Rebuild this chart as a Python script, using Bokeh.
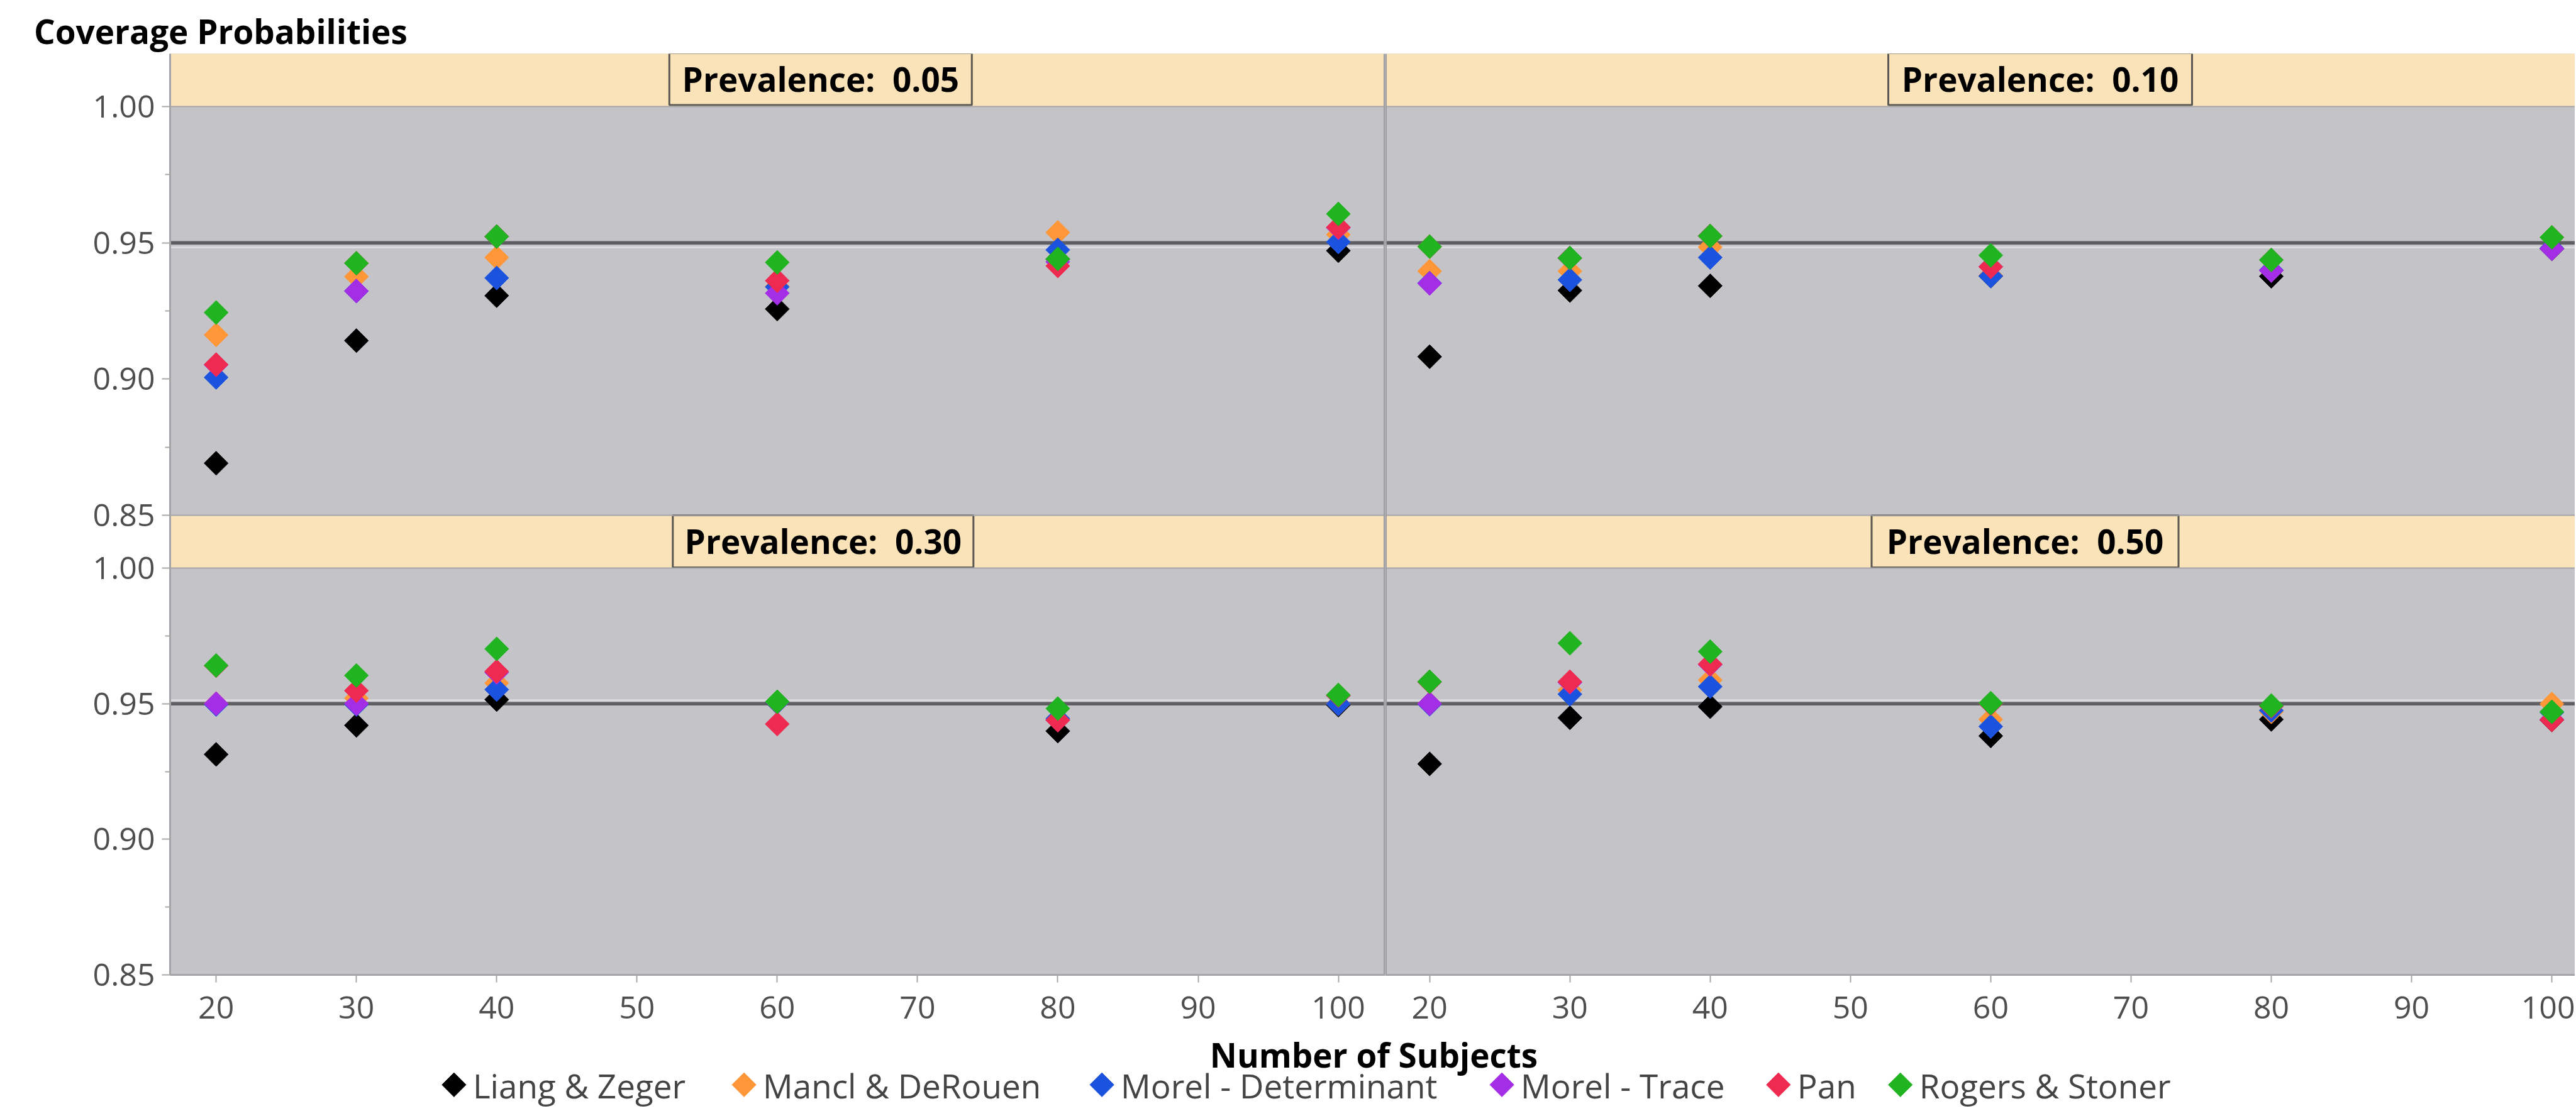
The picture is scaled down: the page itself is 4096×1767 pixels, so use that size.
import math
from bokeh.plotting import figure
from bokeh.layouts import column, row
from bokeh.models import (Range1d, FixedTicker, Span, Label, BoxAnnotation,
                          CustomJSTickFormatter, ColumnDataSource)
from bokeh.embed import file_html
from bokeh.resources import INLINE
from bokeh.core.properties import value

# ---------------------------------------------------------------- data
SUBJECTS = [20, 30, 40, 60, 80, 100]
METHODS = ["Liang & Zeger", "Mancl & DeRouen", "Morel - Determinant",
           "Morel - Trace", "Pan", "Rogers & Stoner"]
PREVALENCES = ["0.05", "0.10", "0.30", "0.50"]
Y_TICKS = [0.85, 0.90, 0.95, 1.00]
Y_MINOR = [0.875, 0.925, 0.975]
X_TICKS = [20, 30, 40, 50, 60, 70, 80, 90, 100]
NOMINAL = 0.95
TITLE = "Coverage Probabilities"
X_TITLE = "Number of Subjects"

# prevalence 0.05
p05_liang_zeger = [0.8691, 0.9141, 0.9306, 0.9257, 0.9440, 0.9471]
p05_mancl_derouen = [0.9162, 0.9376, 0.9446, 0.9340, 0.9538, 0.9530]
p05_morel_det = [0.9006, 0.9323, 0.9371, 0.9338, 0.9474, 0.9503]
p05_morel_trace = [0.9052, 0.9323, 0.9523, 0.9315, 0.9430, 0.9555]
p05_pan = [0.9053, 0.9425, 0.9523, 0.9361, 0.9415, 0.9557]
p05_rogers_stoner = [0.9244, 0.9425, 0.9523, 0.9428, 0.9441, 0.9606]

# prevalence 0.10
p10_liang_zeger = [0.9082, 0.9325, 0.9342, 0.9378, 0.9377, 0.9478]
p10_mancl_derouen = [0.9396, 0.9396, 0.9484, 0.9380, 0.9398, 0.9480]
p10_morel_det = [0.9352, 0.9364, 0.9446, 0.9378, 0.9400, 0.9480]
p10_morel_trace = [0.9351, 0.9444, 0.9525, 0.9412, 0.9398, 0.9478]
p10_pan = [0.9486, 0.9444, 0.9525, 0.9412, 0.9437, 0.9520]
p10_rogers_stoner = [0.9486, 0.9444, 0.9525, 0.9454, 0.9437, 0.9520]

# prevalence 0.30
p30_liang_zeger = [0.9313, 0.9420, 0.9515, 0.9505, 0.9399, 0.9495]
p30_mancl_derouen = [0.9500, 0.9520, 0.9576, 0.9506, 0.9445, 0.9500]
p30_morel_det = [0.9497, 0.9497, 0.9552, 0.9505, 0.9445, 0.9499]
p30_morel_trace = [0.9500, 0.9500, 0.9615, 0.9506, 0.9440, 0.9530]
p30_pan = [0.9640, 0.9548, 0.9619, 0.9425, 0.9439, 0.9530]
p30_rogers_stoner = [0.9641, 0.9604, 0.9702, 0.9507, 0.9482, 0.9532]

# prevalence 0.50
p50_liang_zeger = [0.9278, 0.9448, 0.9489, 0.9381, 0.9442, 0.9440]
p50_mancl_derouen = [0.9500, 0.9550, 0.9587, 0.9442, 0.9470, 0.9499]
p50_morel_det = [0.9498, 0.9535, 0.9563, 0.9416, 0.9475, 0.9468]
p50_morel_trace = [0.9500, 0.9578, 0.9644, 0.9500, 0.9490, 0.9442]
p50_pan = [0.9580, 0.9581, 0.9646, 0.9500, 0.9490, 0.9440]
p50_rogers_stoner = [0.9581, 0.9723, 0.9692, 0.9502, 0.9493, 0.9470]

PANEL_SERIES = [
    [p05_liang_zeger, p05_mancl_derouen, p05_morel_det, p05_morel_trace, p05_pan, p05_rogers_stoner],
    [p10_liang_zeger, p10_mancl_derouen, p10_morel_det, p10_morel_trace, p10_pan, p10_rogers_stoner],
    [p30_liang_zeger, p30_mancl_derouen, p30_morel_det, p30_morel_trace, p30_pan, p30_rogers_stoner],
    [p50_liang_zeger, p50_mancl_derouen, p50_morel_det, p50_morel_trace, p50_pan, p50_rogers_stoner],
]

# ---------------------------------------------------------------- style
COLORS = ["#000000", "#FF9638", "#1C53DE", "#A42DE6", "#EF2A50", "#21B421"]
FONT = "Open Sans"
PLOT_BG = "#C3C3C8"
STRIP_BG = "#FAE3B8"
BOX_LINE = "#5C5852"
AXIS_GRAY = "#A4A4A9"
TICK_GRAY = "#A8A8A8"
LABEL_GRAY = "#4E4E4E"
REF_DARK = "#5E5E63"
REF_LIGHT = "#DADADF"
MARKER_SIZE = 27

# ---------------------------------------------------------------- layout (px)
TOTAL_W = 4094
HEADER_H = 85
STRIP_H = 84
PLOT_H_TOP = 650
PLOT_H_BOT = 647
AXIS_H = 87
FRAME_H = STRIP_H + PLOT_H_TOP + STRIP_H + PLOT_H_BOT
FOOTER_H = 129

LEFT_BORDER = 270
LEFT_FRAME_W = 1932
RIGHT_FRAME_W = TOTAL_W - LEFT_BORDER - LEFT_FRAME_W
X_PPU = 22.305
LEFT_X0 = 16.72
RIGHT_X0 = 16.83
LEFT_X1 = LEFT_X0 + LEFT_FRAME_W / X_PPU
RIGHT_X1 = RIGHT_X0 + RIGHT_FRAME_W / X_PPU

Y0 = 0.85
BOT_PPU = PLOT_H_BOT / 0.15
TOP_PPU = PLOT_H_TOP / 0.15
OFF_PX = PLOT_H_BOT + STRIP_H          # frame px from bottom to the top panel's 0.85
DEFAULT_RANGE = (Y0, Y0 + FRAME_H / BOT_PPU)
TOP_START = Y0 - OFF_PX / TOP_PPU
TOP_RANGE = (TOP_START, TOP_START + FRAME_H / TOP_PPU)


def top_to_default(v):
    return Y0 + (OFF_PX + (v - Y0) * TOP_PPU) / BOT_PPU


# strip boxes: page-x centre and width, in px
STRIP_BOX_CX = [1304.3, 3243.5, 1308.3, 3219.5]
STRIP_BOX_W = [481, 483, 478, 488]

LEGEND_MARKER_X = [721.4, 1182.6, 1751.6, 2387.6, 2827.3, 3021.2]
LEGEND_TEXT_DX = 30
LEGEND_MARKER_Y = 41.2
LEGEND_TEXT_Y = 40.0


def px_to_x(px, is_left):
    if is_left:
        return LEFT_X0 + (px - LEFT_BORDER) / X_PPU
    return RIGHT_X0 + (px - LEFT_BORDER - LEFT_FRAME_W) / X_PPU


def style_grids(fig):
    for g in fig.grid:
        g.visible = False


def make_column(is_left, top_idx, bot_idx):
    x0, x1 = (LEFT_X0, LEFT_X1) if is_left else (RIGHT_X0, RIGHT_X1)
    width = LEFT_BORDER + LEFT_FRAME_W if is_left else RIGHT_FRAME_W
    fig = figure(width=width, height=FRAME_H + AXIS_H,
                 x_range=Range1d(x0, x1), y_range=Range1d(*DEFAULT_RANGE),
                 output_backend="svg", toolbar_location=None,
                 x_axis_location="below",
                 y_axis_location="left" if is_left else None,
                 min_border_left=LEFT_BORDER if is_left else 0,
                 min_border_right=0, min_border_top=0, min_border_bottom=AXIS_H,
                 background_fill_color=PLOT_BG, border_fill_color="white",
                 outline_line_color=None)
    fig.extra_y_ranges = {"top": Range1d(*TOP_RANGE)}
    style_grids(fig)

    # x axis
    ax = fig.xaxis[0]
    ax.ticker = FixedTicker(ticks=X_TICKS)
    ax.axis_line_color = AXIS_GRAY
    ax.axis_line_width = 3
    ax.major_tick_line_color = TICK_GRAY
    ax.major_tick_line_width = 2
    ax.major_tick_out = 12
    ax.major_tick_in = 0
    ax.minor_tick_line_color = None
    ax.major_label_text_font = FONT
    ax.major_label_text_font_size = "50px"
    ax.major_label_text_color = LABEL_GRAY
    ax.major_label_standoff = 22

    if is_left:
        ay = fig.yaxis[0]
        major = Y_TICKS + [top_to_default(v) for v in Y_TICKS]
        minor = Y_MINOR + [top_to_default(v) for v in Y_MINOR]
        ay.ticker = FixedTicker(ticks=major, minor_ticks=minor)
        split = (1.0 + top_to_default(Y0)) / 2.0
        ay.formatter = CustomJSTickFormatter(
            args=dict(y0=Y0, bppu=BOT_PPU, tppu=TOP_PPU, off=OFF_PX, split=split),
            code="""
            let v = tick;
            if (tick > split) { v = y0 + ((tick - y0) * bppu - off) / tppu; }
            return v.toFixed(2);
            """)
        ay.axis_line_color = AXIS_GRAY
        ay.axis_line_width = 3
        ay.major_tick_line_color = TICK_GRAY
        ay.major_tick_line_width = 2
        ay.major_tick_out = 13
        ay.major_tick_in = 0
        ay.minor_tick_line_color = TICK_GRAY
        ay.minor_tick_line_width = 2
        ay.minor_tick_out = 8
        ay.minor_tick_in = 0
        ay.major_label_text_font = FONT
        ay.major_label_text_font_size = "50px"
        ay.major_label_text_color = LABEL_GRAY
        ay.major_label_standoff = 11

    # strips (decoration)
    fig.add_layout(BoxAnnotation(bottom=1.0, top=TOP_RANGE[1] + 0.01, y_range_name="top",
                                 fill_color=STRIP_BG, fill_alpha=1.0, line_color=None,
                                 level="underlay"))
    fig.add_layout(BoxAnnotation(bottom=1.0, top=top_to_default(Y0),
                                 fill_color=STRIP_BG, fill_alpha=1.0, line_color=None,
                                 level="underlay"))

    # prevalence boxes + labels
    for idx, rng, box_bottom, box_top, text_y in [
        (top_idx, "top", 1.0 + 2.4 / TOP_PPU, TOP_RANGE[1] + 1.0 / TOP_PPU, 1.0 + 44.5 / TOP_PPU),
        (bot_idx, "default", 1.0 + 1.0 / BOT_PPU, top_to_default(Y0), 1.0 + 43.4 / BOT_PPU),
    ]:
        cx = STRIP_BOX_CX[idx]
        hw = STRIP_BOX_W[idx] / 2.0
        fig.add_layout(BoxAnnotation(left=px_to_x(cx - hw, is_left), right=px_to_x(cx + hw, is_left),
                                     bottom=box_bottom, top=box_top, y_range_name=rng,
                                     fill_color=STRIP_BG, fill_alpha=1.0,
                                     line_color=BOX_LINE, line_width=3, line_alpha=1.0,
                                     level="underlay"))
        fig.add_layout(Label(x=px_to_x(cx, is_left), y=text_y, y_range_name=rng,
                             text="Prevalence:\u00a0 " + PREVALENCES[idx],
                             text_font=FONT, text_font_style="bold", text_font_size="53px",
                             text_color="#000000", text_align="center",
                             text_baseline="alphabetic"))

    # panel edges and reference lines
    for rng, light_off in [("top", -7.4 / TOP_PPU), ("default", 5.3 / BOT_PPU)]:
        for loc in (Y0, 1.0):
            fig.add_layout(Span(location=loc, dimension="width", y_range_name=rng,
                                line_color=AXIS_GRAY, line_width=2, level="underlay"))
        fig.add_layout(Span(location=NOMINAL + light_off, dimension="width", y_range_name=rng,
                            line_color=REF_LIGHT, line_width=3, level="underlay"))
        fig.add_layout(Span(location=NOMINAL, dimension="width", y_range_name=rng,
                            line_color=REF_DARK, line_width=5.5, level="underlay"))

    # divider between the two columns
    fig.add_layout(Span(location=x1 if is_left else x0, dimension="height",
                        line_color="#9C9CA1", line_width=5, level="underlay"))

    # points
    for idx, rng in [(top_idx, "top"), (bot_idx, "default")]:
        for name, color, vals in zip(METHODS, COLORS, PANEL_SERIES[idx]):
            src = ColumnDataSource(dict(x=SUBJECTS, y=vals))
            fig.scatter("x", "y", source=src, y_range_name=rng, marker="square",
                        angle=math.pi / 4, size=MARKER_SIZE,
                        fill_color=color, line_color=color, line_width=1)
    return fig


left_col = make_column(True, 0, 2)
right_col = make_column(False, 1, 3)

# header with the y title
header = figure(width=TOTAL_W, height=HEADER_H, x_range=Range1d(0, TOTAL_W),
                y_range=Range1d(0, HEADER_H), output_backend="svg", toolbar_location=None,
                x_axis_location=None, y_axis_location=None, min_border=0,
                outline_line_color=None, background_fill_color="white",
                border_fill_color="white")
style_grids(header)
header.add_layout(Label(x=53.5, y=36, text=TITLE, text_font=FONT, text_font_style="bold",
                        text_font_size="53px", text_color="#000000",
                        text_baseline="alphabetic", text_align="left"))

# footer with x title and legend
footer = figure(width=TOTAL_W, height=FOOTER_H, x_range=Range1d(0, TOTAL_W),
                y_range=Range1d(0, FOOTER_H), output_backend="svg", toolbar_location=None,
                x_axis_location=None, y_axis_location=None, min_border=0,
                outline_line_color=None, background_fill_color="white",
                border_fill_color="white")
style_grids(footer)
footer.add_layout(Label(x=2184, y=89, text=X_TITLE, text_font=FONT, text_font_style="bold",
                        text_font_size="53px", text_color="#000000",
                        text_baseline="alphabetic", text_align="center"))
leg_src = ColumnDataSource(dict(
    mx=LEGEND_MARKER_X,
    my=[LEGEND_MARKER_Y] * len(METHODS),
    tx=[x + LEGEND_TEXT_DX for x in LEGEND_MARKER_X],
    ty=[LEGEND_TEXT_Y] * len(METHODS),
    name=METHODS,
    color=COLORS,
))
footer.scatter("mx", "my", source=leg_src, marker="square", angle=math.pi / 4,
               size=MARKER_SIZE, fill_color="color", line_color="color", line_width=1)
footer.text("tx", "ty", text="name", source=leg_src, text_font=value(FONT),
            text_font_size=value("53px"), text_color="#444444",
            text_align="left", text_baseline="alphabetic")

layout = column(header, row(left_col, right_col), footer)

open("out.html", "w").write(file_html(layout, INLINE))
